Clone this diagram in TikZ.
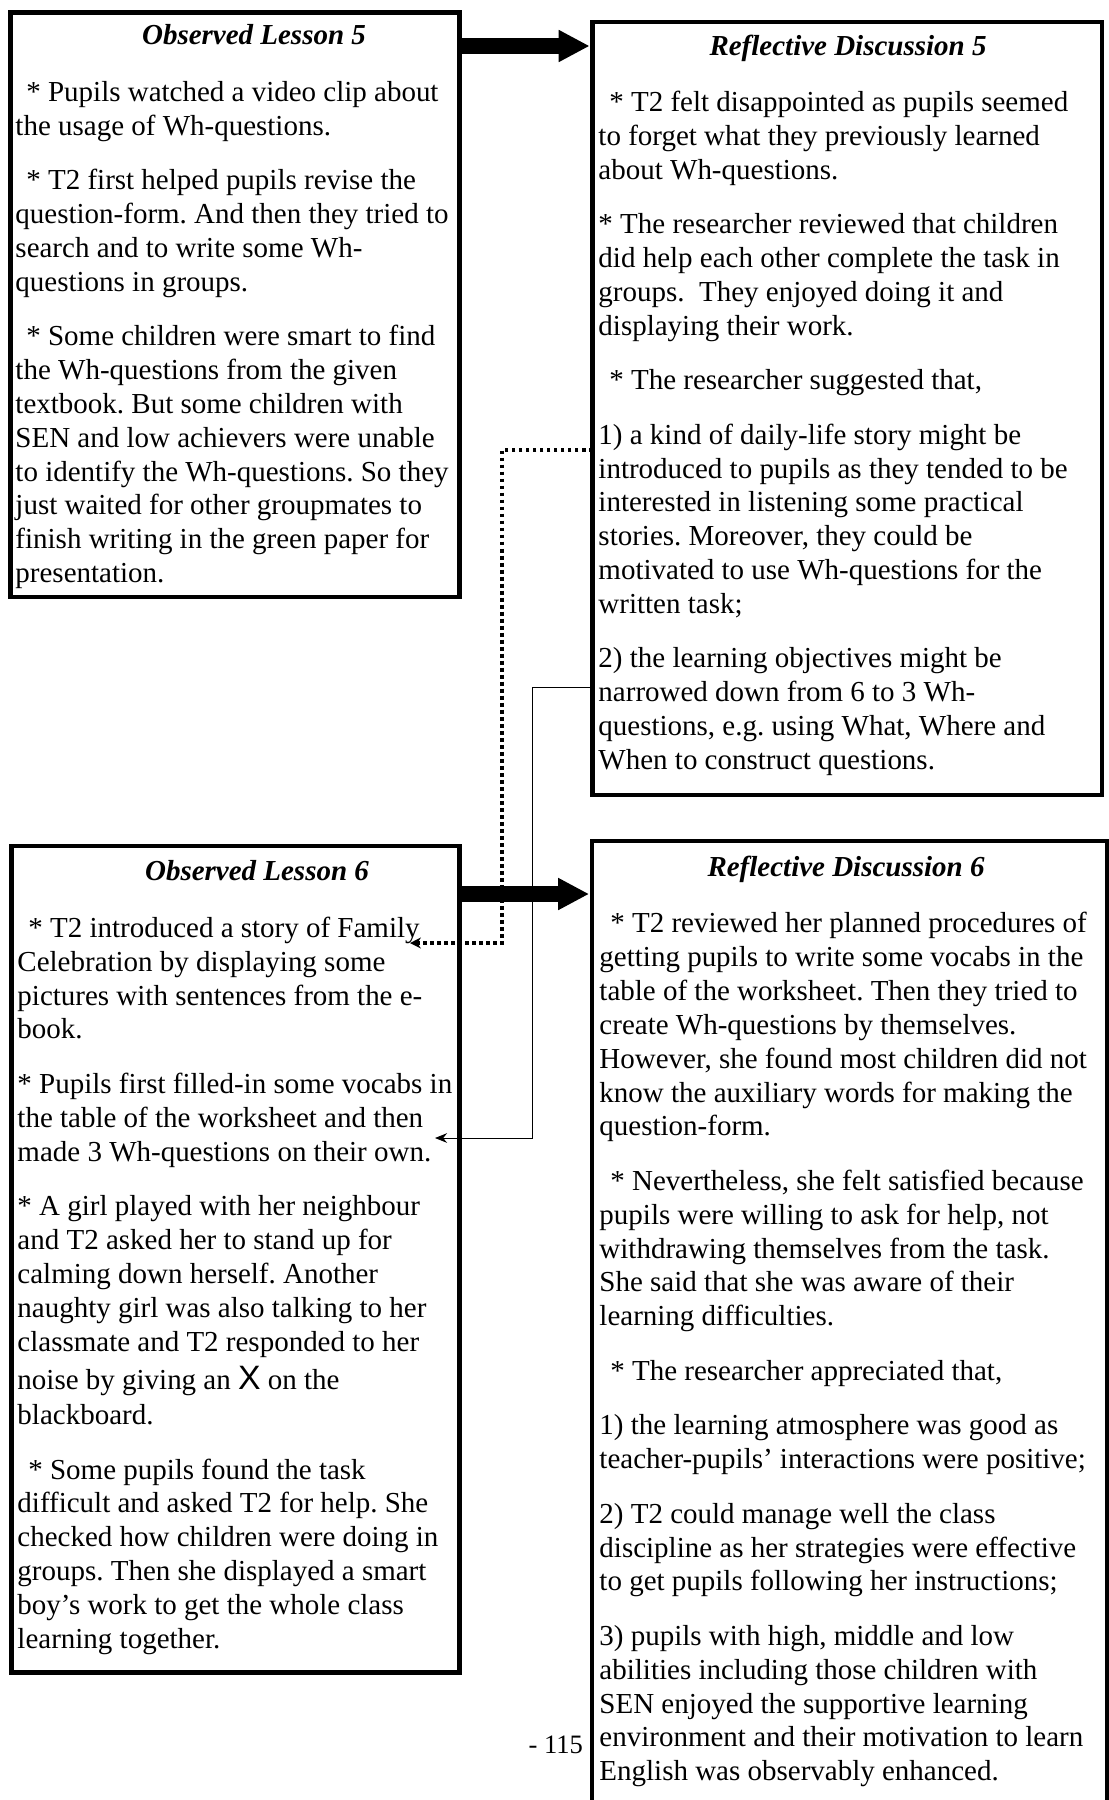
\documentclass[tikz,border=0pt]{standalone}
\usepackage{fontspec}
\setmainfont{Liberation Serif}
\newfontfamily\crossfont{Liberation Sans}
\usetikzlibrary{
    arrows.meta,
    calc,
    positioning
}
\newcommand{\padstar}{\hspace*{4.5pt}}
\frenchspacing

\tikzset{
    lessonbox/.style={draw, line width=2pt, fill=white, outer sep=0pt, inner sep=0pt, anchor=north west},
    bodytext/.style={anchor=north west, inner sep=0pt, align=left, font=\fontsize{12}{14}\selectfont},
    headtext/.style={anchor=base, inner sep=0pt, font=\fontsize{12}{14}\selectfont\bfseries\itshape},
    bigarrow/.style={line width=7pt, shorten >=1.2pt, -{Triangle[length=12.8pt, width=12.4pt]}},
    dotlink/.style={line width=1.6pt, dash pattern=on 1.6pt off 1.3pt, -{Stealth[length=4.5pt, width=4.5pt]}},
    thinlink/.style={line width=0.4pt, -{Stealth[length=5pt, width=4pt]}}
}

\begin{document}
\begin{tikzpicture}[x=0.414pt, y=-0.414pt]
                        \useasboundingbox (0,0) rectangle (1109,1800);
                        \clip (0,0) rectangle (1109,1800);
                        % page number, half hidden by the right box
                        \node[font=\fontsize{11}{13}\selectfont, anchor=base] (page) at (563.5,1753) {- 115 -};
                        \node[lessonbox, minimum width=185.9pt, minimum height=242pt] (ol5) at (10.5,12.5) {};
                        \node[lessonbox, minimum width=210.9pt, minimum height=320pt] (rd5) at (592.5,22) {};
                        \node[lessonbox, minimum width=185.5pt, minimum height=342pt] (ol6) at (11.5,846) {};
                        \node[lessonbox, minimum width=213.2pt, minimum height=405.3pt] (rd6) at (592,841) {};
                        \node[headtext] (ol5head) at (254,44) {Observed Lesson 5};
                        \node[headtext] (rd5head) at (848,55) {Reflective Discussion 5};
                        \node[headtext] (ol6head) at (257,880) {Observed Lesson 6};
                        \node[headtext] (rd6head) at (846,876) {Reflective Discussion 6};
                        \node[bodytext] (ol5text) at (15,77.3) {\strut\padstar* Pupils watched a video clip about\\
                            the usage of Wh-questions.\\[8.6pt]
                            \padstar* T2 first helped pupils revise the\\
                            question-form. And then they tried to\\
                            search and to write some Wh-\\
                            questions in groups.\\[8.6pt]
                            \padstar* Some children were smart to find\\
                            the Wh-questions from the given\\
                            textbook. But some children with\\
                            SEN and low achievers were unable\\
                            to identify the Wh-questions. So they\\
                            just waited for other groupmates to\\
                            finish writing in the green paper for\\
                            presentation.};
                        \node[bodytext] (rd5text) at (598,87.3) {\strut\padstar* T2 felt disappointed as pupils seemed\\
                            to forget what they previously learned\\
                            about Wh-questions.\\[8.6pt]
                            * The researcher reviewed that children\\
                            did help each other complete the task in\\
                            groups.\ \ They enjoyed doing it and\\
                            displaying their work.\\[8.6pt]
                            \padstar* The researcher suggested that,\\[8.6pt]
                            1) a kind of daily-life story might be\\
                            introduced to pupils as they tended to be\\
                            interested in listening some practical\\
                            stories. Moreover, they could be\\
                            motivated to use Wh-questions for the\\
                            written task;\\[8.6pt]
                            2) the learning objectives might be\\
                            narrowed down from 6 to 3 Wh-\\
                            questions, e.g. using What, Where and\\
                            When to construct questions.};
                        \node[bodytext] (ol6text) at (17,913.3) {\strut\padstar* T2 introduced a story of Family\\
                            Celebration by displaying some\\
                            pictures with sentences from the e-\\
                            book.\\[8.6pt]
                            * Pupils first filled-in some vocabs in\\
                            the table of the worksheet and then\\
                            made 3 Wh-questions on their own.\\[8.6pt]
                            * A girl played with her neighbour\\
                            and T2 asked her to stand up for\\
                            calming down herself. Another\\
                            naughty girl was also talking to her\\
                            classmate and T2 responded to her\\[1.8pt]
                            noise by giving an {\crossfont\fontsize{14}{14}\selectfont X} on the\\[0.6pt]
                            blackboard.\\[8.6pt]
                            \padstar* Some pupils found the task\\
                            difficult and asked T2 for help. She\\
                            checked how children were doing in\\
                            groups. Then she displayed a smart\\
                            boy's work to get the whole class\\
                            learning together.};
                        \node[bodytext] (rd6text) at (599,908.8) {\strut\padstar* T2 reviewed her planned procedures of\\
                            getting pupils to write some vocabs in the\\
                            table of the worksheet. Then they tried to\\
                            create Wh-questions by themselves.\\
                            However, she found most children did not\\
                            know the auxiliary words for making the\\
                            question-form.\\[8.6pt]
                            \padstar* Nevertheless, she felt satisfied because\\
                            pupils were willing to ask for help, not\\
                            withdrawing themselves from the task.\\
                            She said that she was aware of their\\
                            learning difficulties.\\[8.6pt]
                            \padstar* The researcher appreciated that,\\[8.6pt]
                            1) the learning atmosphere was good as\\
                            teacher-pupils' interactions were positive;\\[8.6pt]
                            2) T2 could manage well the class\\
                            discipline as her strategies were effective\\
                            to get pupils following her instructions;\\[8.6pt]
                            3) pupils with high, middle and low\\
                            abilities including those children with\\
                            SEN enjoyed the supportive learning\\
                            environment and their motivation to learn\\
                            English was observably enhanced.};
                        \coordinate (family) at (410,943);
                        \coordinate (vocabs) at (435,1138);
                        \draw[dotlink] (rd5.west |- 0,450) -| (502,943) -- (family);
                        \draw[thinlink] (rd5.west |- 0,687) -| (532,1138) -- (vocabs);
                        \draw[bigarrow] (ol5.east |- 0,46) -- (rd5.west |- 0,46);
                        \draw[bigarrow] (ol6.east |- 0,894) -- (rd6.west |- 0,894);
                    \end{tikzpicture}
\end{document}
